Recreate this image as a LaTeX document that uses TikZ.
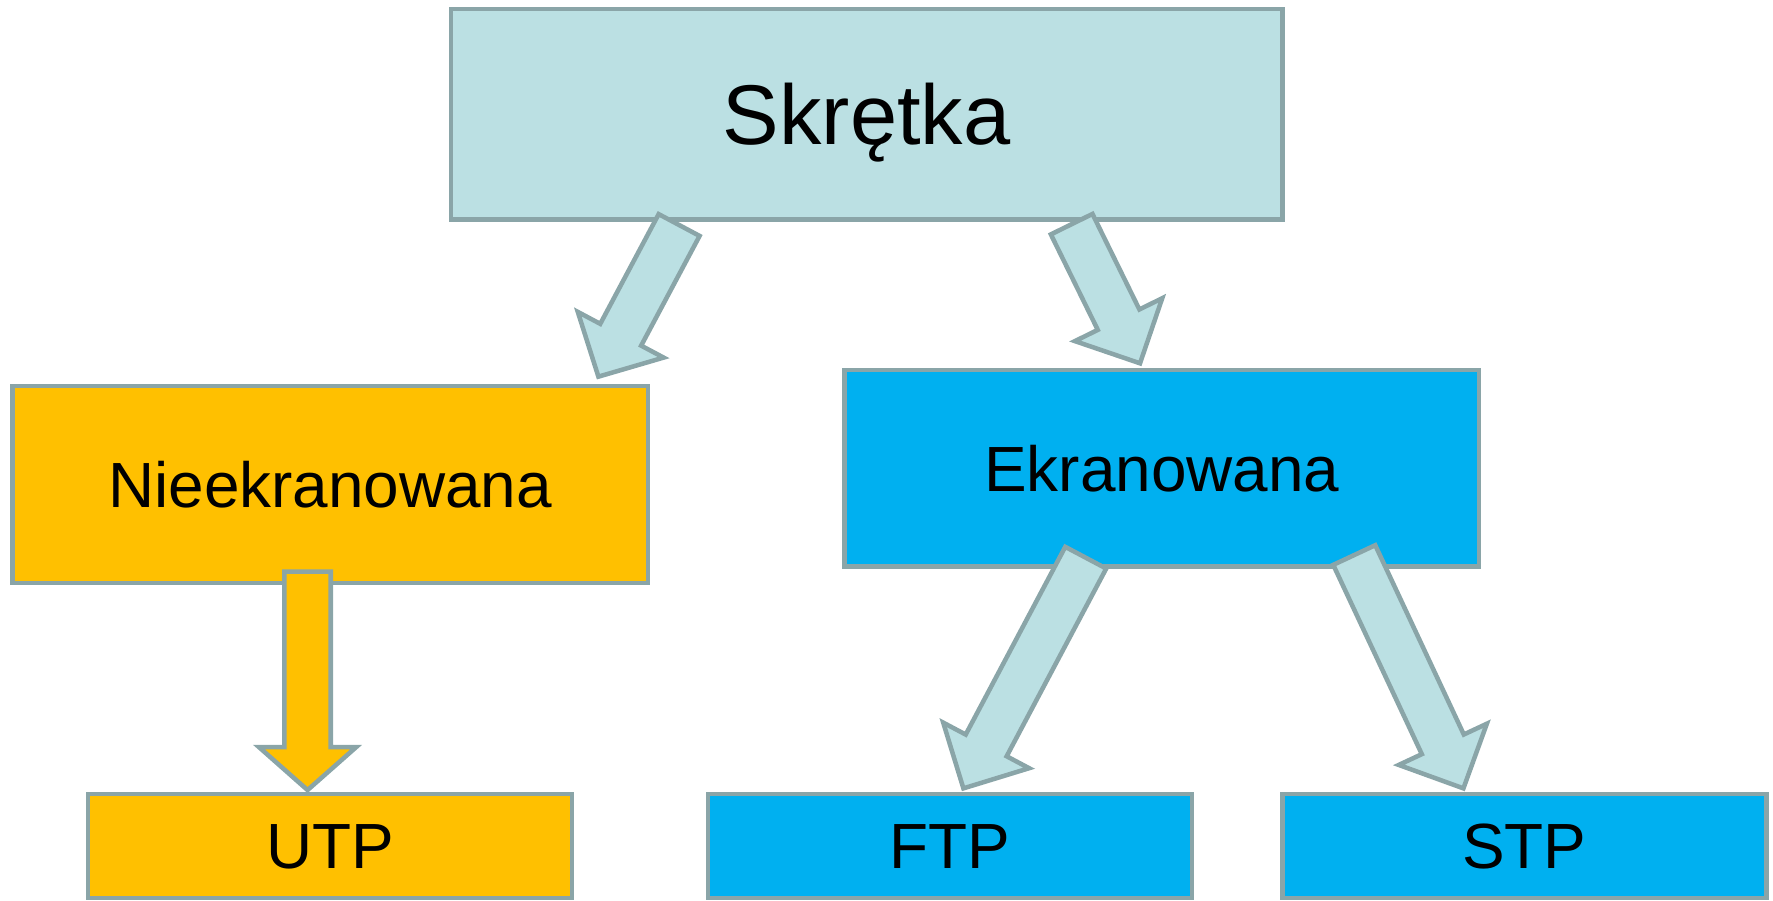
\documentclass[tikz,border=0pt]{standalone}
\usepackage{fontspec}
\setmainfont{Liberation Sans}
\usetikzlibrary{calc}
\definecolor{edgegray}{RGB}{138,165,168}
\definecolor{pale}{RGB}{187,224,227}
\definecolor{amber}{RGB}{255,192,0}
\definecolor{sky}{RGB}{0,176,240}
\tikzset{
  box/.style={draw=edgegray, line width=4pt, inner sep=0pt, text depth=0pt,
    font=\fontsize{56.5}{62}\selectfont, text height=40.5pt},
  bigbox/.style={box, font=\fontsize{75}{82}\selectfont, text height=53.7pt},
  blockarrow/.style={draw=edgegray, line width=4pt, fill=pale, line join=miter},
}
% #1 style, #2 start coordinate, #3 tip coordinate, #4 head length
\newcommand\blockarr[4][]{%
  \coordinate (ba-h) at ($(#3)!#4!(#2)$);
  \draw[blockarrow,#1]
    ($(#2)!20.5pt!90:(#3)$) --
    ($(ba-h)!20.5pt!90:(#3)$) --
    ($(ba-h)!43pt!90:(#3)$) --
    (#3) --
    ($(ba-h)!43pt!-90:(#3)$) --
    ($(ba-h)!20.5pt!-90:(#3)$) --
    ($(#2)!20.5pt!-90:(#3)$) -- cycle;
}
\begin{document}
\begin{tikzpicture}[x=1pt,y=-1pt]
\useasboundingbox (0,0) rectangle (1568,796);
% boxes
\node[bigbox, fill=pale, minimum width=735pt, minimum height=186pt] (sk) at (766.5,101) {Skrętka};
\node[box, fill=amber, minimum width=562pt, minimum height=174pt] (nie) at (292,428.5) {Nieekranowana};
\node[box, fill=sky, minimum width=561pt, minimum height=174pt] (ekr) at (1027.5,414) {Ekranowana};
\node[box, fill=amber, minimum width=428pt, minimum height=92pt] (utp) at (292,748) {UTP};
\node[box, fill=sky, minimum width=428pt, minimum height=92pt] (ftp) at (840,748) {FTP};
\node[box, fill=sky, minimum width=428pt, minimum height=92pt] (stp) at (1348,748) {STP};
% arrow end points
\coordinate (a1s) at (600.6,199);
\coordinate (a1t) at (529.2,333.1);
\coordinate (a2s) at (947.75,198.25);
\coordinate (a2t) at (1008.2,321.3);
\coordinate (a3s) at (272,505.6);
\coordinate (a3t) at (272,698.7);
\coordinate (a4s) at (960.2,493.2);
\coordinate (a4t) at (852,697.2);
\coordinate (a5s) at (1197.65,490.85);
\coordinate (a5t) at (1294.2,697.2);
% arrows
\blockarr{a1s}{a1t}{42pt}
\blockarr{a2s}{a2t}{43pt}
\blockarr[fill=amber]{a3s}{a3t}{38pt}
\blockarr{a4s}{a4t}{43pt}
\blockarr{a5s}{a5t}{43pt}
\end{tikzpicture}
\end{document}
